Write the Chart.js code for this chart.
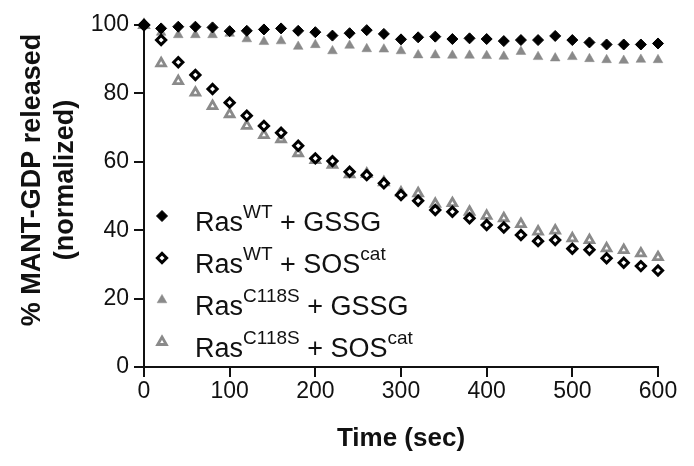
<!DOCTYPE html>
<html>
<head>
<meta charset="utf-8">
<title>MANT-GDP release</title>
<script src="https://cdn.jsdelivr.net/npm/chart.js"></script>
<style>
  html, body { margin: 0; padding: 0; background: #fff; }
  #chart { display: block; }
</style>
</head>
<body>
<canvas id="chart" width="694" height="466"></canvas>
<script>
// time points (sec)
const times = [0, 20, 40, 60, 80, 100, 120, 140, 160, 180, 200, 220, 240, 260, 280, 300,
    320, 340, 360, 380, 400, 420, 440, 460, 480, 500, 520, 540, 560, 580, 600];

// % MANT-GDP released (normalized)
const wtGssg = [100, 99.0, 99.5, 99.5, 99.3, 98.2, 98.3, 98.7, 99.0, 98.3, 97.9, 96.9, 97.6, 98.5,
    97.4, 95.8, 96.4, 96.6, 95.9, 96.1, 95.9, 95.3, 95.6, 95.6, 96.8, 95.6, 94.9, 94.3, 94.3, 94.3, 94.6];
const wtSos = [100, 95.6, 89.1, 85.4, 81.3, 77.3, 73.5, 70.5, 68.5, 64.7, 61.0, 60.2, 57.1, 56.1,
    53.7, 50.3, 48.6, 45.9, 45.4, 43.5, 41.5, 40.8, 38.6, 36.8, 37.1, 34.6, 34.3, 31.8, 30.5, 29.5, 28.2];
const c118sGssg = [100, 97.8, 97.1, 97.1, 97.1, 97.5, 95.9, 95.1, 95.3, 93.7, 94.2, 92.4, 94.0, 93.0,
    92.9, 92.4, 91.2, 91.2, 91.1, 91.1, 91.0, 90.8, 92.2, 90.7, 90.3, 90.7, 90.1, 89.8, 89.6, 89.9, 89.8];
const c118sSos = [100, 88.8, 83.6, 80.2, 76.3, 73.9, 70.5, 67.8, 66.6, 62.5, 60.5, 59.1, 56.3, 56.5,
    54.0, 51.0, 50.8, 47.7, 47.9, 45.4, 44.2, 43.5, 41.8, 39.6, 39.9, 37.6, 37.1, 34.7, 34.2, 33.2, 32.1];

const xTicks = [0, 100, 200, 300, 400, 500, 600];
const yTicks = [0, 20, 40, 60, 80, 100];

// legend: [base, superscript, middle, superscript]
const legendText = [
    ['Ras', 'WT', ' + GSSG', ''],
    ['Ras', 'WT', ' + SOS', 'cat'],
    ['Ras', 'C118S', ' + GSSG', ''],
    ['Ras', 'C118S', ' + SOS', 'cat']
];

const FONT = '"Liberation Sans", Arial, Helvetica, sans-serif';
const GREY = '#8a8a8a';

function points(values) {
    return times.map((t, i) => ({ x: t, y: values[i] }));
}

const datasets = [
    { label: 'WT + GSSG', data: points(wtGssg), pointStyle: 'rectRot', pointRadius: 5.5,
      backgroundColor: '#000', borderColor: '#000', borderWidth: 1 },
    { label: 'WT + SOScat', data: points(wtSos), pointStyle: 'rectRot', pointRadius: 4.6,
      backgroundColor: '#fff', borderColor: '#000', borderWidth: 3 },
    { label: 'C118S + GSSG', data: points(c118sGssg), pointStyle: 'triangle', pointRadius: 5.6,
      backgroundColor: GREY, borderColor: GREY, borderWidth: 0.5 },
    { label: 'C118S + SOScat', data: points(c118sSos), pointStyle: 'triangle', pointRadius: 5,
      backgroundColor: '#fff', borderColor: GREY, borderWidth: 2.8 }
];
datasets.forEach(d => {
    d.showLine = false;
    d.clip = false;
    d.pointHoverRadius = d.pointRadius;
});

// y title drawn by hand so it can sit a little above the axis centre
const yTitlePlugin = {
    id: 'yTitle',
    afterDraw(chart) {
        const ctx = chart.ctx;
        ctx.save();
        ctx.translate(33, 180);
        ctx.rotate(-Math.PI / 2);
        ctx.fillStyle = '#111';
        ctx.font = 'bold 27px ' + FONT;
        ctx.textAlign = 'center';
        ctx.textBaseline = 'middle';
        ctx.fillText('% MANT-GDP released', 0, 0);
        ctx.fillText('(normalized)', 0, 33);
        ctx.restore();
    }
};

// legend with superscripts, markers drawn with the dataset styles
const legendPlugin = {
    id: 'supLegend',
    afterDraw(chart) {
        const ctx = chart.ctx;
        const baselines = [231, 273, 315, 357];
        ctx.save();
        legendText.forEach((parts, i) => {
            const ds = chart.data.datasets[i];
            const by = baselines[i];
            ctx.fillStyle = ds.backgroundColor;
            ctx.strokeStyle = ds.borderColor;
            ctx.lineWidth = ds.borderWidth;
            Chart.helpers.drawPoint(ctx, {
                pointStyle: ds.pointStyle, rotation: 0,
                radius: ds.pointRadius, borderWidth: ds.borderWidth
            }, 162, by - 15);

            let x = 195;
            ctx.fillStyle = '#111';
            ctx.textBaseline = 'alphabetic';
            ctx.textAlign = 'left';
            parts.forEach((txt, j) => {
                if (!txt) return;
                const sup = j % 2 === 1;
                ctx.font = (sup ? '19px ' : '27px ') + FONT;
                ctx.fillText(txt, x, sup ? by - 13 : by);
                x += ctx.measureText(txt).width;
            });
        });
        ctx.restore();
    }
};

new Chart(document.getElementById('chart'), {
    type: 'scatter',
    data: { datasets: datasets },
    options: {
        responsive: false,
        animation: false,
        devicePixelRatio: 1,
        layout: { padding: { left: 0, right: 36, top: 25, bottom: 0 } },
        plugins: {
            legend: { display: false },
            tooltip: { enabled: false }
        },
        scales: {
            x: {
                type: 'linear',
                min: 0,
                max: 600,
                afterFit: s => { s.height = 99; },
                afterBuildTicks: s => { s.ticks = xTicks.map(v => ({ value: v })); },
                grid: { drawOnChartArea: false, tickLength: 10, color: '#111', lineWidth: 2 },
                border: { color: '#111', width: 2 },
                ticks: { color: '#111', padding: 1, maxRotation: 0, font: { family: FONT, size: 23 } },
                title: {
                    display: true,
                    text: 'Time (sec)',
                    color: '#111',
                    padding: { top: 0, bottom: 12 },
                    font: { family: FONT, size: 26, weight: 'bold' }
                }
            },
            y: {
                type: 'linear',
                min: 0,
                max: 100,
                afterFit: s => { s.width = 144; },
                afterBuildTicks: s => { s.ticks = yTicks.map(v => ({ value: v })); },
                grid: { drawOnChartArea: false, tickLength: 10, color: '#111', lineWidth: 2 },
                border: { color: '#111', width: 2 },
                ticks: { color: '#111', padding: 5, font: { family: FONT, size: 23 } }
            }
        }
    },
    plugins: [yTitlePlugin, legendPlugin]
});
</script>
</body>
</html>
